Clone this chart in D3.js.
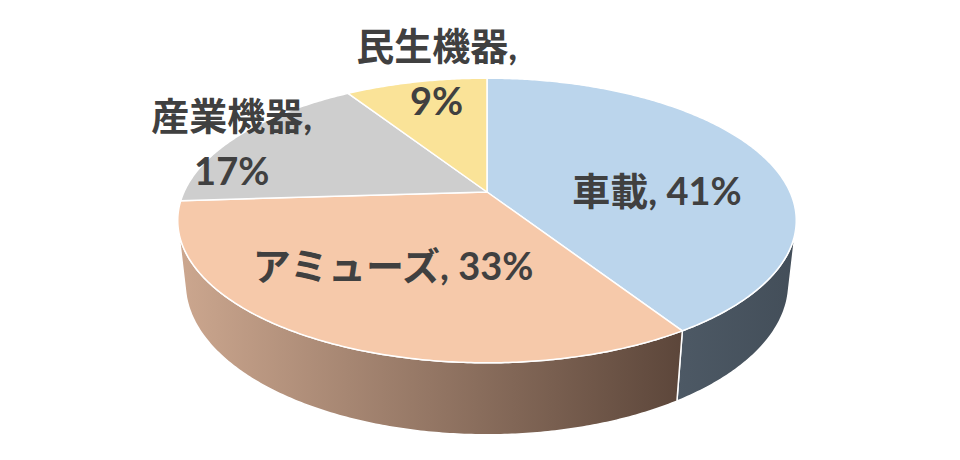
<!DOCTYPE html>
<html>
<head>
<meta charset="utf-8">
<script src="https://cdn.jsdelivr.net/npm/d3@7"></script>
<style>
  html, body { margin: 0; background: #fff; }
</style>
</head>
<body>
<div id="chart"></div>
<script>
// data
const categories = ["車載", "アミューズ", "産業機器", "民生機器"];
const shares = [41, 33, 17, 9];
const topColors = ["#BBD5EC", "#F6C9AA", "#CECECE", "#FAE398"];
const wallColors = [["#4D5965", "#434E59"], ["#CCA78F", "#5C463A"], ["#A8A8A8", "#8A8A8A"], ["#D8C070", "#B8A050"]];
const labelInside = [true, true, false, false];
// label anchors in pie-plane polar coords (degrees clockwise from back, fraction of radius)
const labelAngles = [91, 209, 292, 349];
const labelRadii = [0.56, 0.575, 0.975, 1.05];

const width = 960, height = 460;
const cx = 487, cy = 192;       // projected pie centre
const R = 303, depth = 71;      // radius and thickness
const tilt = 26.8 * Math.PI / 180;
const focal = 1352;

const svg = d3.select("#chart").append("svg")
  .attr("width", width)
  .attr("height", height)
  .style("font-family", "Lato, 'Noto Sans CJK JP', sans-serif");

// perspective projection of a point on the cylinder
function project(theta, r, z) {
  const X = r * Math.sin(theta), Y = -r * Math.cos(theta);
  const yv = z * Math.cos(tilt) - Y * Math.sin(tilt);
  const d = -Y * Math.cos(tilt) - z * Math.sin(tilt);
  const s = focal / (focal + d);
  return [cx + X * s, cy - yv * s];
}

function arcPoints(a0, a1, r, z) {
  const n = Math.max(2, Math.ceil(Math.abs(a1 - a0) / 0.01));
  return d3.range(n + 1).map(i => project(a0 + (a1 - a0) * i / n, r, z));
}

const pie = d3.pie().sort(null).value(d => d)(shares);

// silhouette of the side wall
const silA = Math.acos(-R / (focal * Math.cos(tilt)));
const silB = 2 * Math.PI - silA;

const defs = svg.append("defs");
const line = d3.line();

// side walls
pie.forEach((p, i) => {
  const a0 = Math.max(p.startAngle, silA), a1 = Math.min(p.endAngle, silB);
  if (a1 <= a0) return;
  const top = arcPoints(a0, a1, R, 0);
  const bottom = arcPoints(a1, a0, R, -depth);
  const xs = top.concat(bottom).map(q => q[0]);
  const grad = defs.append("linearGradient")
    .attr("id", "wall" + i)
    .attr("gradientUnits", "userSpaceOnUse")
    .attr("x1", d3.min(xs)).attr("x2", d3.max(xs))
    .attr("y1", 0).attr("y2", 0);
  grad.append("stop").attr("offset", 0).attr("stop-color", wallColors[i][0]);
  grad.append("stop").attr("offset", 1).attr("stop-color", wallColors[i][1]);
  svg.append("path")
    .attr("d", line(top.concat(bottom)) + "Z")
    .attr("fill", `url(#wall${i})`)
    .attr("stroke", "#fff")
    .attr("stroke-width", 1.5)
    .attr("stroke-linejoin", "round");
});

// top faces
pie.forEach((p, i) => {
  const pts = [project(0, 0, 0)].concat(arcPoints(p.startAngle, p.endAngle, R, 0));
  svg.append("path")
    .attr("d", line(pts) + "Z")
    .attr("fill", topColors[i])
    .attr("stroke", "#fff")
    .attr("stroke-width", 1.5)
    .attr("stroke-linejoin", "round");
});

// labels
const fontSize = 38, lineH = 55, lift = 3;
categories.forEach((c, i) => {
  const lines = labelInside[i] ? [`${c}, ${shares[i]}%`] : [`${c},`, `${shares[i]}%`];
  const [lx, ly] = project(labelAngles[i] * Math.PI / 180, labelRadii[i] * R, 0);
  const t = svg.append("text")
    .attr("x", lx)
    .attr("y", ly)
    .attr("text-anchor", "middle")
    .attr("fill", "#404040")
    .style("font-size", fontSize + "px")
    .style("font-weight", "bold");
  lines.forEach((s, k) => {
    t.append("tspan")
      .attr("x", lx)
      .attr("y", ly - lift + (k - (lines.length - 1) / 2) * lineH)
      .attr("dominant-baseline", "central")
      .text(s);
  });
});
</script>
</body>
</html>
